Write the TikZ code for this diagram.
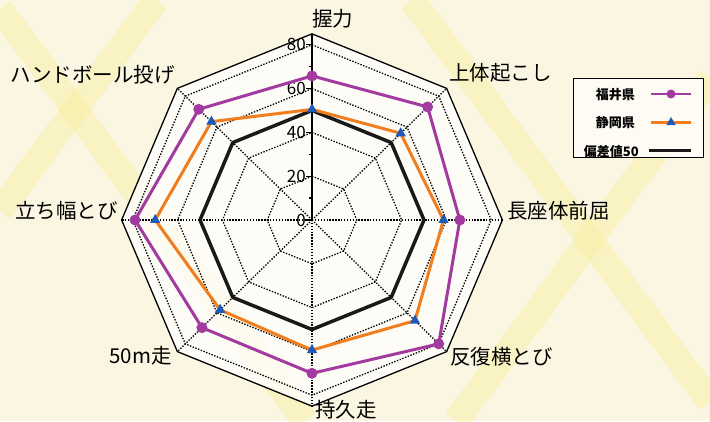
\documentclass[tikz,border=0pt]{standalone}
\usepackage{fontspec}
\setmainfont{Noto Sans CJK JP}
\usetikzlibrary{shapes.geometric,calc}

\definecolor{paper}{RGB}{250,246,226}
\definecolor{band}{RGB}{248,237,150}
\definecolor{fukui}{RGB}{163,58,160}
\definecolor{shizuoka}{RGB}{240,125,30}
\definecolor{triblue}{RGB}{30,90,185}

\tikzset{
  gridring/.style={line width=1.3pt, dash pattern=on 1.4pt off 1.5pt},
  rimline/.style={line width=1.3pt},
  axislabel/.style={font=\fontsize{20.5}{22}\selectfont, inner sep=0pt},
  ticklabel/.style={font=\fontsize{17}{18}\selectfont, inner sep=0pt, anchor=east},
  legendtext/.style={font=\fontsize{13}{14}\selectfont\bfseries, inner sep=0pt, anchor=east},
  fukuiline/.style={draw=fukui, line width=3pt, line join=round},
  shizuokaline/.style={draw=shizuoka, line width=3pt, line join=round},
  meanline/.style={draw=black!90, line width=3.5pt, line join=round},
  fukuimark/.style={circle, fill=fukui, inner sep=0pt, minimum size=11pt},
  shizuokamark/.style={regular polygon, regular polygon sides=3, fill=triblue, inner sep=0pt, minimum size=12pt}
}

\begin{document}
\begin{tikzpicture}[x=1pt,y=1pt]
\useasboundingbox (0,0) rectangle (710,421);
\fill[paper] (0,0) rectangle (710,421);
\begin{scope}
\clip (0,0) rectangle (710,421);
\draw[band, line width=26pt, opacity=0.4] (0,412) -- (305,0);
\draw[band, line width=26pt, opacity=0.4] (412,421) -- (710,19);
\draw[band, line width=26pt, opacity=0.4] (156,421) -- (0,210);
\draw[band, line width=26pt, opacity=0.4] (710,343) -- (456,0);
\end{scope}

\begin{scope}[shift={(312,201)}, x=2.24pt, y=2.19pt]
\coordinate (c) at (0,0);
\fill[white, opacity=0.75] (90:85) -- (45:85) -- (0:85) -- (-45:85) -- (-90:85) -- (-135:85) -- (180:85) -- (135:85) -- cycle;
\draw[gridring] (90:20) -- (45:20) -- (0:20) -- (-45:20) -- (-90:20) -- (-135:20) -- (180:20) -- (135:20) -- cycle;
\draw[gridring] (90:40) -- (45:40) -- (0:40) -- (-45:40) -- (-90:40) -- (-135:40) -- (180:40) -- (135:40) -- cycle;
\draw[gridring] (90:60) -- (45:60) -- (0:60) -- (-45:60) -- (-90:60) -- (-135:60) -- (180:60) -- (135:60) -- cycle;
\draw[gridring] (90:80) -- (45:80) -- (0:80) -- (-45:80) -- (-90:80) -- (-135:80) -- (180:80) -- (135:80) -- cycle;
\coordinate (o1) at (90:85);
\coordinate (o2) at (45:85);
\coordinate (o3) at (0:85);
\coordinate (o4) at (-45:85);
\coordinate (o5) at (-90:85);
\coordinate (o6) at (-135:85);
\coordinate (o7) at (180:85);
\coordinate (o8) at (135:85);
\draw[gridring] (c) -- (o2);
\draw[gridring] (c) -- (o3);
\draw[gridring] (c) -- (o4);
\draw[gridring] (c) -- (o5);
\draw[gridring] (c) -- (o6);
\draw[gridring] (c) -- (o7);
\draw[gridring] (c) -- (o8);
\draw[rimline] (o1) -- (o2) -- (o3) -- (o4) -- (o5) -- (o6) -- (o7) -- (o8) -- cycle;
\draw[rimline] (c) -- (o1);
\draw[rimline] (0,0) -- ++(-6pt,0) (0,20) -- ++(-6pt,0) (0,40) -- ++(-6pt,0) (0,60) -- ++(-6pt,0) (0,80) -- ++(-6pt,0);
\draw[rimline] (0,10) -- ++(-3pt,0) (0,30) -- ++(-3pt,0) (0,50) -- ++(-3pt,0) (0,70) -- ++(-3pt,0);
\node[ticklabel] (t0) at ([xshift=-6pt]0,0) {0};
\node[ticklabel] (t20) at ([xshift=-6pt]0,20) {20};
\node[ticklabel] (t40) at ([xshift=-6pt]0,40) {40};
\node[ticklabel] (t60) at ([xshift=-6pt]0,60) {60};
\node[ticklabel] (t80) at ([xshift=-6pt]0,80) {80};

\draw[meanline] (90:50) -- (45:50) -- (0:50) -- (-45:50) -- (-90:50) -- (-135:50) -- (180:50) -- (135:50) -- cycle;

\coordinate (s1) at (90:50.5);
\coordinate (s2) at (45:56);
\coordinate (s3) at (0:58.7);
\coordinate (s4) at (-45:65);
\coordinate (s5) at (-90:59.4);
\coordinate (s6) at (-135:58);
\coordinate (s7) at (180:70);
\coordinate (s8) at (135:63.5);
\draw[shizuokaline] (s1) -- (s2) -- (s3) -- (s4) -- (s5) -- (s6) -- (s7) -- (s8) -- cycle;

\coordinate (f1) at (90:65.8);
\coordinate (f2) at (45:73);
\coordinate (f3) at (0:66);
\coordinate (f4) at (-45:80);
\coordinate (f5) at (-90:70);
\coordinate (f6) at (-135:69.5);
\coordinate (f7) at (180:79);
\coordinate (f8) at (135:71.5);
\draw[fukuiline] (f1) -- (f2) -- (f3) -- (f4) -- (f5) -- (f6) -- (f7) -- (f8) -- cycle;

\foreach \i in {1,...,8} {
  \node[shizuokamark] (sm\i) at (s\i) {};
  \node[fukuimark] (fm\i) at (f\i) {};
}
\end{scope}

\node[axislabel, anchor=west] (grip) at (312,402) {握力};
\node[axislabel, anchor=west] (situp) at (449,348) {上体起こし};
\node[axislabel, anchor=west] (reach) at (507,210) {長座体前屈};
\node[axislabel, anchor=west] (sidestep) at (450,64) {反復横とび};
\node[axislabel, anchor=west] (endurance) at (315,11) {持久走};
\node[axislabel, anchor=east] (dash50) at (172,65) {50m走};
\node[axislabel, anchor=east] (jump) at (118,210) {立ち幅とび};
\node[axislabel, anchor=east] (throw) at (175,346) {ハンドボール投げ};

\node[draw, line width=1pt, fill=white!60!paper, minimum width=130pt, minimum height=79pt, inner sep=0pt, anchor=north west] (legend) at (572.5,342.5) {};
\node[legendtext] (lfukui) at (635,326) {福井県};
\node[legendtext] (lshizuoka) at (635,298) {静岡県};
\node[legendtext] (lmean) at (639,269.5) {偏差値50};
\coordinate (lf1) at (651,327);
\coordinate (lf2) at (691,327);
\coordinate (ls1) at (651,298.5);
\coordinate (ls2) at (691,298.5);
\coordinate (lm1) at (649,270);
\coordinate (lm2) at (691,270);
\draw[fukuiline, line width=2.5pt] (lf1) -- (lf2);
\draw[shizuokaline, line width=2.5pt] (ls1) -- (ls2);
\draw[meanline, line width=3pt] (lm1) -- (lm2);
\node[fukuimark, minimum size=9pt] (lfm) at ($(lf1)!0.5!(lf2)$) {};
\node[shizuokamark, minimum size=11pt] (lsm) at ($(ls1)!0.5!(ls2)$) {};
\end{tikzpicture}
\end{document}
